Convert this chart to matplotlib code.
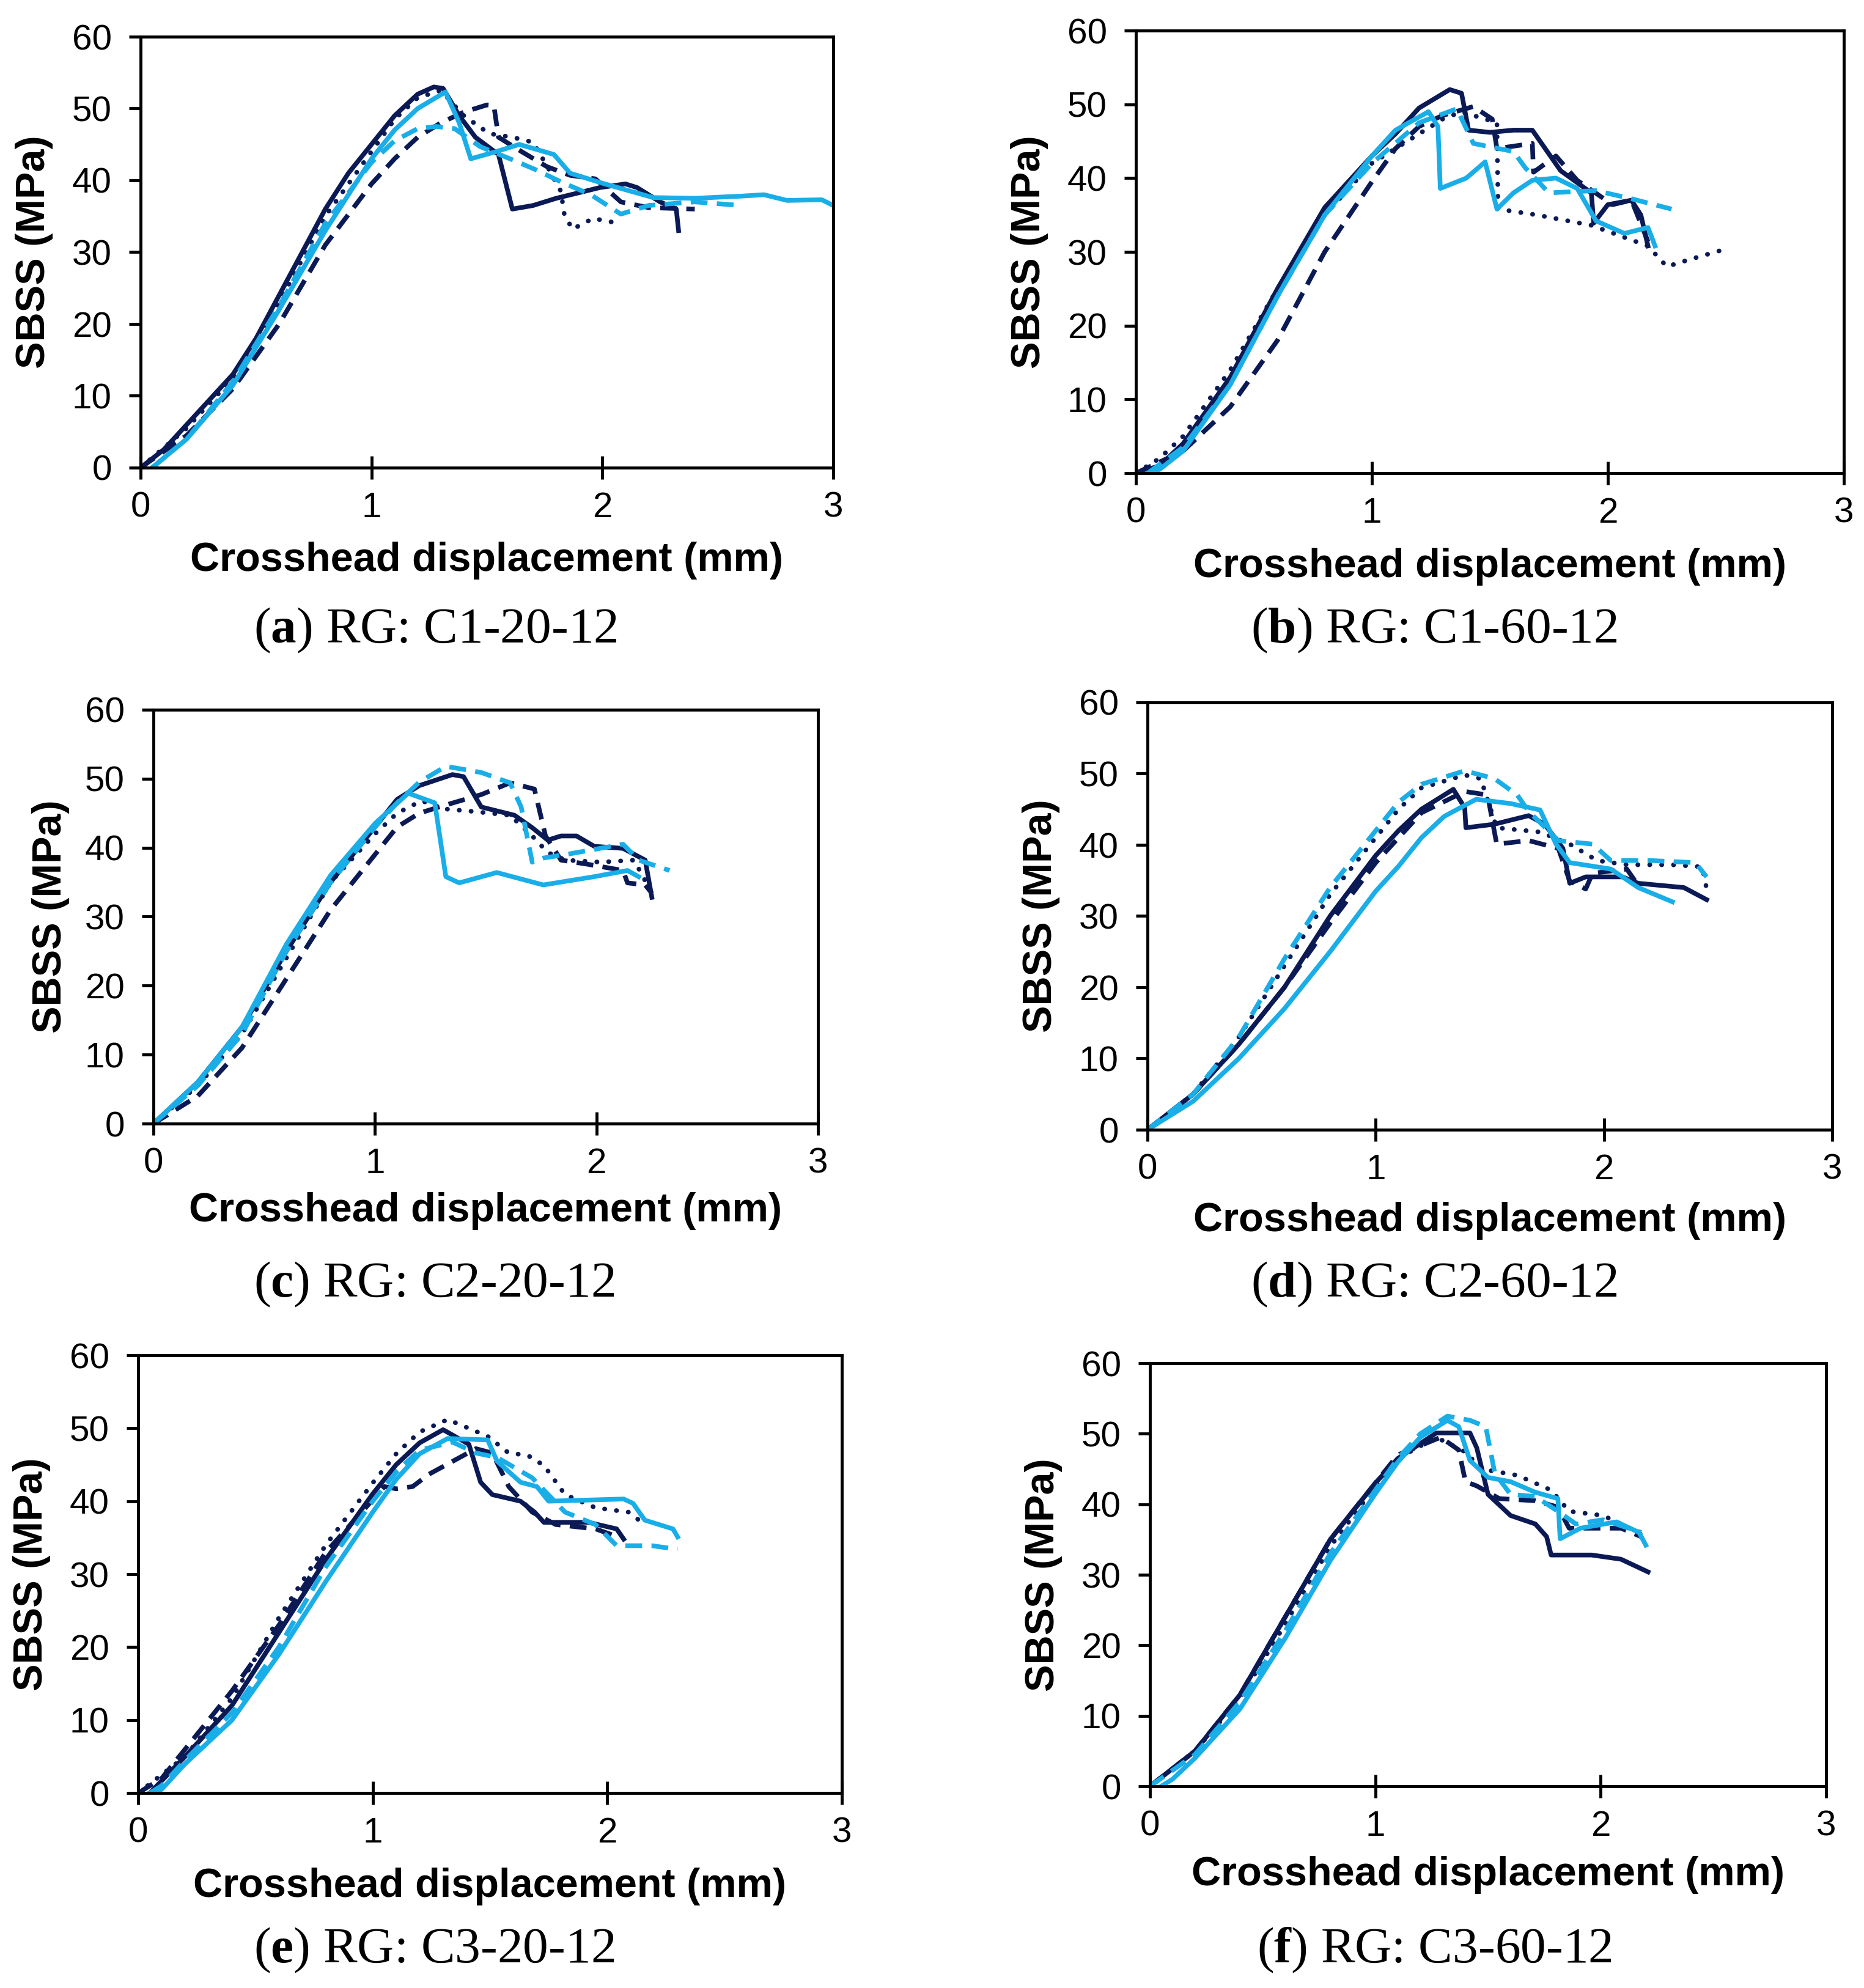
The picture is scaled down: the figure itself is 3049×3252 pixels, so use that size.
import matplotlib
matplotlib.use("Agg")
import matplotlib.pyplot as plt

plt.rcParams['font.family'] = ['Liberation Sans', 'DejaVu Sans']
plt.rcParams['mathtext.fontset'] = 'custom'
plt.rcParams['mathtext.rm'] = 'Liberation Serif'
plt.rcParams['mathtext.bf'] = 'Liberation Serif:bold'

W, H = 3049, 3252
dark = '#0b1a55'
light = '#19aee8'

# ---- data (x: mm, y: MPa) ----
# (a) C1-20-12
a_ds_x = [0, 0.1, 0.2, 0.3, 0.4, 0.5, 0.6, 0.7, 0.8, 0.9, 1.0, 1.1, 1.2, 1.27, 1.31, 1.38, 1.45, 1.55, 1.61, 1.7, 1.8, 1.99, 2.1, 2.15, 2.25, 2.32, 2.33]
a_ds_y = [0, 2.5, 6, 9.5, 13, 18, 24, 30, 36, 41, 45, 49, 52, 53, 52.8, 49, 46, 43.6, 36, 36.5, 37.5, 39, 39.5, 39, 37, 36, 33]
a_dd_x = [0, 0.2, 0.4, 0.6, 0.8, 1.0, 1.1, 1.2, 1.3, 1.4, 1.5, 1.53, 1.55, 1.65, 1.76, 1.86, 1.97, 2.08, 2.2, 2.4]
a_dd_y = [0, 4.5, 11, 20, 31, 39.5, 43, 46, 48, 49.5, 50.5, 50.4, 46, 44, 41.9, 40.7, 40.2, 37, 36.2, 36]
a_dt_x = [0, 0.2, 0.4, 0.6, 0.8, 1.0, 1.1, 1.2, 1.3, 1.4, 1.51, 1.61, 1.7, 1.76, 1.82, 1.835, 1.87, 1.96, 2.04]
a_dt_y = [0, 5.5, 12.5, 23, 35, 44, 48.5, 51.5, 52.5, 49, 46.5, 46, 45.3, 42, 38.5, 35.3, 33.2, 34.7, 34.2]
a_ls_x = [0.05, 0.2, 0.4, 0.6, 0.8, 1.0, 1.1, 1.2, 1.32, 1.38, 1.43, 1.54, 1.64, 1.79, 1.86, 2.0, 2.22, 2.4, 2.6, 2.7, 2.8, 2.95, 3.0]
a_ls_y = [0, 4, 11.5, 22, 33, 43, 47, 50, 52.3, 48, 43, 44, 45, 43.6, 41, 39.6, 37.6, 37.5, 37.8, 38, 37.2, 37.3, 36.5]
a_ld_x = [0.05, 0.2, 0.4, 0.6, 0.8, 1.0, 1.1, 1.2, 1.28, 1.36, 1.47, 1.6, 1.71, 1.82, 1.95, 2.08, 2.2, 2.4, 2.6]
a_ld_y = [0, 4, 12, 22.5, 34, 42.5, 45.5, 47.2, 47.5, 47.2, 44.7, 43, 41.5, 39.8, 38, 35.3, 36.5, 37, 36.5]

# (b) C1-60-12
b_ds_x = [0, 0.1, 0.2, 0.4, 0.6, 0.8, 1.0, 1.1, 1.2, 1.33, 1.38, 1.41, 1.5, 1.6, 1.68, 1.8, 1.93, 1.94, 2.0, 2.1, 2.14, 2.17]
b_ds_y = [0, 1, 4, 13, 25, 36, 43, 46, 49.5, 52, 51.5, 46.5, 46.2, 46.5, 46.5, 41, 38, 33.9, 36.4, 37, 35, 30.8]
b_dd_x = [0, 0.2, 0.4, 0.6, 0.8, 1.0, 1.1, 1.2, 1.3, 1.43, 1.51, 1.53, 1.68, 1.685, 1.78, 1.87, 2.02, 2.1, 2.17]
b_dd_y = [0, 3, 9, 18, 30, 39.5, 44, 47, 48.5, 49.7, 48, 44, 44.7, 40.8, 43, 39.7, 36.4, 37, 31.4]
b_dt_x = [0, 0.1, 0.2, 0.4, 0.6, 0.8, 1.0, 1.2, 1.3, 1.38, 1.53, 1.535, 1.7, 1.93, 2.17, 2.25, 2.35, 2.49]
b_dt_y = [0, 2, 5, 14, 25, 35, 42, 46, 48, 49, 47.5, 35.8, 35, 33.6, 30.8, 28, 29, 30.3]
b_ls_x = [0.05, 0.1, 0.2, 0.4, 0.6, 0.8, 1.0, 1.1, 1.24, 1.28, 1.29, 1.4, 1.48, 1.53, 1.6, 1.68, 1.78, 1.87, 1.95, 2.07, 2.17, 2.2]
b_ls_y = [0, 0.5, 3, 12, 24, 35, 43, 46.5, 49, 47, 38.6, 40, 42.2, 35.8, 38, 39.7, 40, 38.6, 34.2, 32.5, 33.3, 30.8]
b_ld_x = [0.05, 0.2, 0.4, 0.6, 0.8, 1.0, 1.2, 1.36, 1.43, 1.6, 1.65, 1.75, 1.95, 2.1, 2.27]
b_ld_y = [0, 3.5, 12, 24, 35, 42, 47.5, 49.4, 44.7, 43.6, 41.4, 38, 38.3, 37.2, 35.8]

# (c) C2-20-12
c_ds_x = [0, 0.2, 0.4, 0.6, 0.8, 1.0, 1.1, 1.2, 1.35, 1.4, 1.48, 1.63, 1.71, 1.78, 1.84, 1.91, 1.99, 2.12, 2.22, 2.25]
c_ds_y = [0, 6, 14, 25, 35, 43, 47, 49, 50.6, 50.3, 45.9, 44.7, 42.9, 41.1, 41.7, 41.7, 40.2, 39.9, 38.2, 32.8]
c_dd_x = [0, 0.2, 0.4, 0.6, 0.8, 1.0, 1.1, 1.2, 1.3, 1.48, 1.61, 1.72, 1.77, 1.84, 1.96, 2.12, 2.14, 2.22, 2.25]
c_dd_y = [0, 4, 11, 21, 31, 39, 43, 45, 46, 47.7, 49.4, 48.5, 41.7, 38.2, 37.6, 36.7, 34.9, 34.6, 33.4]
c_dt_x = [0, 0.2, 0.4, 0.6, 0.8, 1.0, 1.1, 1.21, 1.32, 1.43, 1.61, 1.71, 1.78, 1.86, 2.02, 2.17, 2.23]
c_dt_y = [0, 5.5, 13, 24, 35, 42, 45, 46.8, 45.6, 45.3, 44.7, 41.7, 39.3, 38.2, 37.9, 38.2, 34.6]
c_ls_x = [0, 0.2, 0.4, 0.6, 0.8, 1.0, 1.15, 1.27, 1.32, 1.38, 1.55, 1.76, 1.99, 2.14, 2.19]
c_ls_y = [0, 6, 14, 26, 36, 43.5, 47.9, 46.5, 35.8, 34.9, 36.4, 34.6, 35.8, 36.7, 35.8]
c_ld_x = [0, 0.2, 0.4, 0.6, 0.8, 1.0, 1.1, 1.2, 1.32, 1.48, 1.61, 1.66, 1.71, 1.76, 1.86, 2.12, 2.19, 2.33]
c_ld_y = [0, 5.5, 13, 25, 35, 43, 46.5, 49.5, 51.8, 50.9, 49.4, 45.9, 37.9, 38.5, 39, 40.5, 38.2, 36.7]

# (d) C2-60-12
d_ds_x = [0, 0.2, 0.4, 0.6, 0.8, 1.0, 1.1, 1.2, 1.34, 1.39, 1.395, 1.52, 1.67, 1.74, 1.82, 1.85, 1.92, 2.08, 2.15, 2.35, 2.45]
d_ds_y = [0, 5, 12, 20, 30, 38.5, 42, 45, 47.8, 45.2, 42.4, 42.9, 44.1, 42.9, 39.5, 34.6, 35.5, 35.5, 34.6, 34, 32.3]
d_dd_x = [0, 0.2, 0.4, 0.6, 0.8, 1.0, 1.1, 1.2, 1.39, 1.49, 1.53, 1.67, 1.8, 1.85, 1.92, 1.95, 2.1, 2.15]
d_dd_y = [0, 5, 12, 20, 29, 37.5, 41, 44.5, 47.5, 47, 40.1, 40.6, 39.5, 34.9, 33.8, 36, 36.6, 34.3]
d_dt_x = [0, 0.2, 0.4, 0.6, 0.8, 1.0, 1.1, 1.2, 1.39, 1.46, 1.53, 1.72, 1.85, 1.97, 2.1, 2.3, 2.43, 2.45]
d_dt_y = [0, 5, 13, 23, 33, 41, 45, 48, 49.8, 49.3, 42.4, 41.8, 40.1, 37.8, 37.2, 37.2, 36.9, 33.8]
d_ls_x = [0, 0.2, 0.4, 0.6, 0.8, 1.0, 1.1, 1.2, 1.3, 1.44, 1.59, 1.72, 1.79, 1.85, 2.03, 2.15, 2.3]
d_ls_y = [0, 4, 10, 17, 25, 33.5, 37, 41, 44, 46.4, 45.8, 44.9, 40.1, 37.5, 36.6, 34, 32]
d_ld_x = [0, 0.2, 0.4, 0.6, 0.8, 1.0, 1.1, 1.2, 1.39, 1.52, 1.62, 1.67, 1.8, 1.95, 2.03, 2.2, 2.4, 2.45]
d_ld_y = [0, 5, 13, 24, 34, 42, 46, 48.5, 50.4, 49.3, 47, 44.7, 40.6, 40.1, 37.8, 37.8, 37.5, 35.5]

# (e) C3-20-12
e_ds_x = [0.05, 0.2, 0.4, 0.6, 0.8, 1.0, 1.1, 1.2, 1.3, 1.41, 1.46, 1.51, 1.63, 1.69, 1.73, 1.92, 2.04, 2.07]
e_ds_y = [0, 5, 12, 22, 32, 41, 45, 48, 49.8, 47.8, 42.6, 40.9, 40, 38.5, 37.1, 37.1, 36.2, 34.8]
e_dd_x = [0, 0.1, 0.2, 0.4, 0.6, 0.8, 1.05, 1.1, 1.17, 1.24, 1.44, 1.51, 1.58, 1.68, 1.78, 1.95, 2.02]
e_dd_y = [0, 2, 6, 14, 23, 33, 42, 41.7, 42, 43.7, 47.2, 46.6, 42, 38.5, 36.8, 36.2, 35.4]
e_dt_x = [0, 0.2, 0.4, 0.6, 0.8, 1.0, 1.1, 1.2, 1.32, 1.49, 1.58, 1.66, 1.73, 1.82, 1.95, 2.09, 2.16]
e_dt_y = [0, 5, 13, 24, 34, 42.5, 46.5, 49.5, 51.2, 48.9, 46.6, 46.3, 44.9, 40.9, 39.1, 38.5, 36.8]
e_ls_x = [0.05, 0.1, 0.2, 0.4, 0.6, 0.8, 1.0, 1.1, 1.2, 1.32, 1.49, 1.53, 1.63, 1.7, 1.75, 2.07, 2.11, 2.16, 2.28, 2.3]
e_ls_y = [0, 0.5, 4, 10, 19, 29, 38.5, 43, 46.5, 48.6, 48.4, 45.5, 42.6, 42, 40, 40.3, 39.7, 37.4, 36.2, 35.1]
e_ld_x = [0.05, 0.1, 0.2, 0.4, 0.6, 0.8, 1.0, 1.1, 1.2, 1.34, 1.44, 1.53, 1.68, 1.82, 1.95, 2.04, 2.19, 2.3]
e_ld_y = [0, 1, 4.5, 11, 20, 31, 40, 44, 47, 48.1, 46.6, 46, 43.2, 38.5, 36.8, 33.9, 33.9, 33.4]

# (f) C3-60-12
f_ds_x = [0, 0.2, 0.4, 0.6, 0.8, 1.0, 1.1, 1.27, 1.42, 1.45, 1.5, 1.6, 1.71, 1.76, 1.78, 1.96, 2.09, 2.21]
f_ds_y = [0, 5, 13, 24, 35, 43, 46.5, 50.1, 50.1, 48, 41.4, 38.4, 37.2, 35.4, 32.8, 32.8, 32.2, 30.4]
f_dd_x = [0, 0.2, 0.4, 0.6, 0.8, 1.0, 1.1, 1.29, 1.37, 1.4, 1.45, 1.55, 1.71, 1.81, 1.86, 1.96, 2.09, 2.18]
f_dd_y = [0, 5, 13, 24, 35, 43, 47, 49.5, 47.7, 43.2, 42.6, 40.8, 40.5, 39.6, 36.6, 36.6, 36.6, 35.4]
f_dt_x = [0, 0.2, 0.4, 0.6, 0.8, 1.0, 1.1, 1.27, 1.4, 1.47, 1.63, 1.78, 1.86, 2.01, 2.17, 2.2]
f_dt_y = [0, 5, 12.5, 23, 34, 42.5, 46.5, 49.5, 47.4, 45, 44.1, 42, 39, 38.4, 36, 34.8]
f_ls_x = [0.05, 0.1, 0.2, 0.4, 0.6, 0.8, 1.0, 1.1, 1.2, 1.32, 1.37, 1.42, 1.5, 1.6, 1.71, 1.81, 1.82, 1.91, 2.07, 2.17, 2.2]
f_ls_y = [0, 1, 4, 11, 21, 32, 41.5, 46, 49.5, 51.9, 51, 46.2, 43.8, 43.2, 41.7, 40.8, 35.1, 36.6, 37.5, 36, 34.2]
f_ld_x = [0, 0.2, 0.4, 0.6, 0.8, 1.0, 1.1, 1.2, 1.32, 1.42, 1.49, 1.53, 1.6, 1.71, 1.81, 1.89, 2.01, 2.18]
f_ld_y = [0, 4.5, 12, 22, 33, 42, 46.5, 50, 52.5, 51.9, 51, 44.4, 41.4, 41.1, 39, 37.2, 37.8, 36]

panels = [
    ("a", "RG: C1-20-12", [(a_ds_x, a_ds_y), (a_dd_x, a_dd_y), (a_dt_x, a_dt_y), (a_ls_x, a_ls_y), (a_ld_x, a_ld_y)]),
    ("b", "RG: C1-60-12", [(b_ds_x, b_ds_y), (b_dd_x, b_dd_y), (b_dt_x, b_dt_y), (b_ls_x, b_ls_y), (b_ld_x, b_ld_y)]),
    ("c", "RG: C2-20-12", [(c_ds_x, c_ds_y), (c_dd_x, c_dd_y), (c_dt_x, c_dt_y), (c_ls_x, c_ls_y), (c_ld_x, c_ld_y)]),
    ("d", "RG: C2-60-12", [(d_ds_x, d_ds_y), (d_dd_x, d_dd_y), (d_dt_x, d_dt_y), (d_ls_x, d_ls_y), (d_ld_x, d_ld_y)]),
    ("e", "RG: C3-20-12", [(e_ds_x, e_ds_y), (e_dd_x, e_dd_y), (e_dt_x, e_dt_y), (e_ls_x, e_ls_y), (e_ld_x, e_ld_y)]),
    ("f", "RG: C3-60-12", [(f_ds_x, f_ds_y), (f_dd_x, f_dd_y), (f_dt_x, f_dt_y), (f_ls_x, f_ls_y), (f_ld_x, f_ld_y)]),
]

# axes box in pixels: left, top, right, bottom; then ylabel x, xlabel y, caption x, caption y
boxes = [
    (230, 60, 1363, 765, 56, 917, 712, 1031),
    (1858, 50, 3016, 774, 1684, 927, 2346, 1031),
    (251, 1161, 1338, 1838, 83, 1981, 710, 2101),
    (1877, 1149, 2997, 1848, 1703, 1997, 2346, 2101),
    (226, 2217, 1377, 2933, 52, 3086, 710, 3190),
    (1881, 2230, 2987, 2922, 1707, 3067, 2346, 3190),
]

styles = [
    dict(color=dark, linestyle='-'),
    dict(color=dark, linestyle=(0, (3.6, 2.0))),
    dict(color=dark, linestyle=(0, (0.05, 2.5)), dash_capstyle='round'),
    dict(color=light, linestyle='-'),
    dict(color=light, linestyle=(0, (3.6, 2.0))),
]

fig = plt.figure(figsize=(W / 100, H / 100), dpi=100)

for (letter, name, series), box in zip(panels, boxes):
    l, t, r, b, ylx, xly, cx, cy = box
    ax = fig.add_axes([l / W, 1 - b / H, (r - l) / W, (b - t) / H])
    for (xs, ys), st in zip(series, styles):
        ax.plot(xs, ys, linewidth=5.5, solid_joinstyle='round', **st)
    ax.set_xlim(0, 3)
    ax.set_ylim(0, 60)
    ax.set_xticks([0, 1, 2, 3])
    ax.set_yticks(range(0, 61, 10))
    for sp in ax.spines.values():
        sp.set_linewidth(3.5)
    ax.tick_params(axis='y', direction='out', length=14, width=3.5, pad=20, labelsize=42)
    ax.tick_params(axis='x', direction='inout', length=28, width=3.5, pad=14, labelsize=42)
    fig.text(ylx / W, 1 - ((t + b) / 2) / H, "SBSS (MPa)", rotation=90, fontsize=48,
             fontweight='bold', ha='center', va='center')
    fig.text(((l + r) / 2) / W, 1 - xly / H, "Crosshead displacement (mm)", fontsize=48,
             fontweight='bold', ha='center', va='center')
    fig.text(cx / W, 1 - cy / H, r"($\mathbf{" + letter + r"}$) " + name, fontsize=60,
             family='Liberation Serif', ha='center', va='center')

fig.savefig("out.png", dpi=100, facecolor='white')
